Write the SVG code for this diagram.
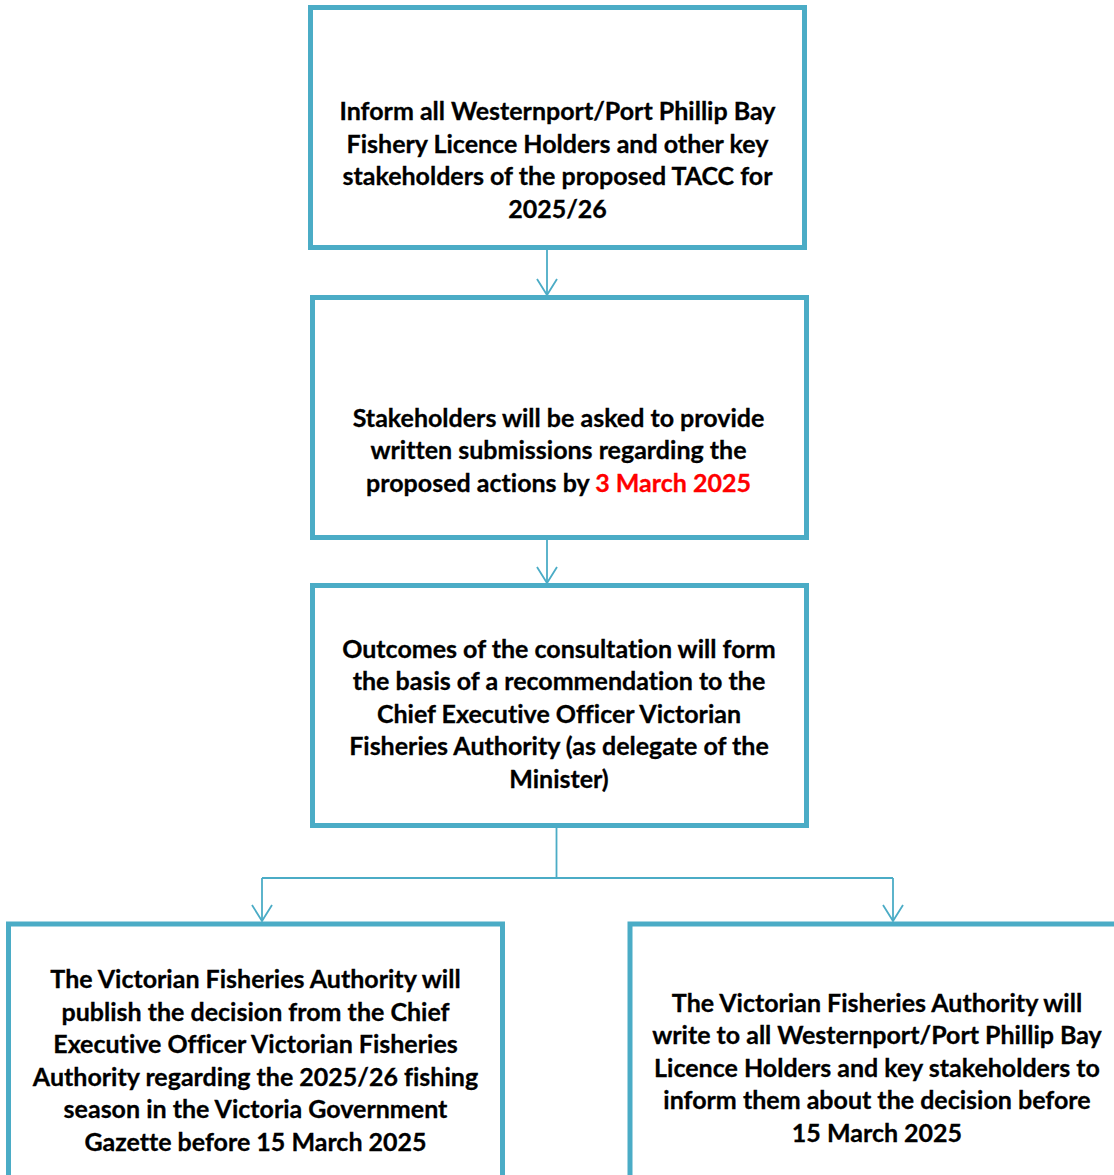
<svg xmlns="http://www.w3.org/2000/svg" width="1114" height="1175" viewBox="0 0 1114 1175">
<style>
.box{fill:#fff;stroke:#4BACC6;stroke-width:5}
.t{font-family:Lato,"Open Sans","Liberation Sans",sans-serif;font-weight:bold;font-size:25px;fill:#000;stroke:#000;stroke-width:0.3;text-anchor:middle;font-variant-ligatures:none;font-feature-settings:"liga" 0,"clig" 0}
.red{fill:#FF0000;stroke:#FF0000}
.con{fill:none;stroke:#4BACC6;stroke-width:1.8}
</style>
<defs>
<marker id="arr" markerUnits="userSpaceOnUse" viewBox="-1 -11 19 22" markerWidth="19" markerHeight="22" refX="16" refY="0" orient="auto">
<path d="M0,-10 L16,0 L0,10" fill="none" stroke="#4BACC6" stroke-width="1.8"/>
</marker>
</defs>
<rect width="1114" height="1175" fill="#fff"/>
<g id="connectors">
<line class="con" x1="547" y1="250" x2="547" y2="295" marker-end="url(#arr)"/>
<line class="con" x1="547" y1="540" x2="547" y2="583" marker-end="url(#arr)"/>
<polyline class="con" points="556.5,828 556.5,878"/>
<polyline class="con" points="262,878 893,878"/>
<line class="con" x1="262" y1="878" x2="262" y2="921" marker-end="url(#arr)"/>
<line class="con" x1="893" y1="878" x2="893" y2="921" marker-end="url(#arr)"/>
</g>
<g id="node1">
<rect class="box" x="310.5" y="7.5" width="494" height="240"/>
<text class="t" x="557.5" y="120">Inform all Westernport/Port Phillip Bay</text>
<text class="t" x="557.5" y="152.7">Fishery Licence Holders and other key</text>
<text class="t" x="557.5" y="185.4">stakeholders of the proposed TACC for</text>
<text class="t" x="557.5" y="218">2025/26</text>
</g>
<g id="node2">
<rect class="box" x="312.5" y="297.5" width="494" height="240"/>
<text class="t" x="558.5" y="426.5">Stakeholders will be asked to provide</text>
<text class="t" x="558.5" y="459">written submissions regarding the</text>
<text class="t" x="558.5" y="491.5">proposed actions by <tspan class="red">3 March 2025</tspan></text>
</g>
<g id="node3">
<rect class="box" x="312.5" y="585.5" width="494" height="240"/>
<text class="t" x="559" y="657.5">Outcomes of the consultation will form</text>
<text class="t" x="559" y="690">the basis of a recommendation to the</text>
<text class="t" x="559" y="722.5">Chief Executive Officer Victorian</text>
<text class="t" x="559" y="755">Fisheries Authority (as delegate of the</text>
<text class="t" x="559" y="787.5">Minister)</text>
</g>
<g id="node4">
<rect class="box" x="8.5" y="924" width="494" height="270"/>
<text class="t" x="255.5" y="988">The Victorian Fisheries Authority will</text>
<text class="t" x="255.5" y="1020.5">publish the decision from the Chief</text>
<text class="t" x="255.5" y="1053">Executive Officer Victorian Fisheries</text>
<text class="t" x="255.5" y="1085.5">Authority regarding the 2025/26 fishing</text>
<text class="t" x="255.5" y="1118">season in the Victoria Government</text>
<text class="t" x="255.5" y="1150.5">Gazette before 15 March 2025</text>
</g>
<g id="node5">
<rect class="box" x="630" y="924" width="500" height="270"/>
<text class="t" x="877" y="1011.5">The Victorian Fisheries Authority will</text>
<text class="t" x="877" y="1044">write to all Westernport/Port Phillip Bay</text>
<text class="t" x="877" y="1076.5">Licence Holders and key stakeholders to</text>
<text class="t" x="877" y="1109">inform them about the decision before</text>
<text class="t" x="877" y="1141.5">15 March 2025</text>
</g>
</svg>
